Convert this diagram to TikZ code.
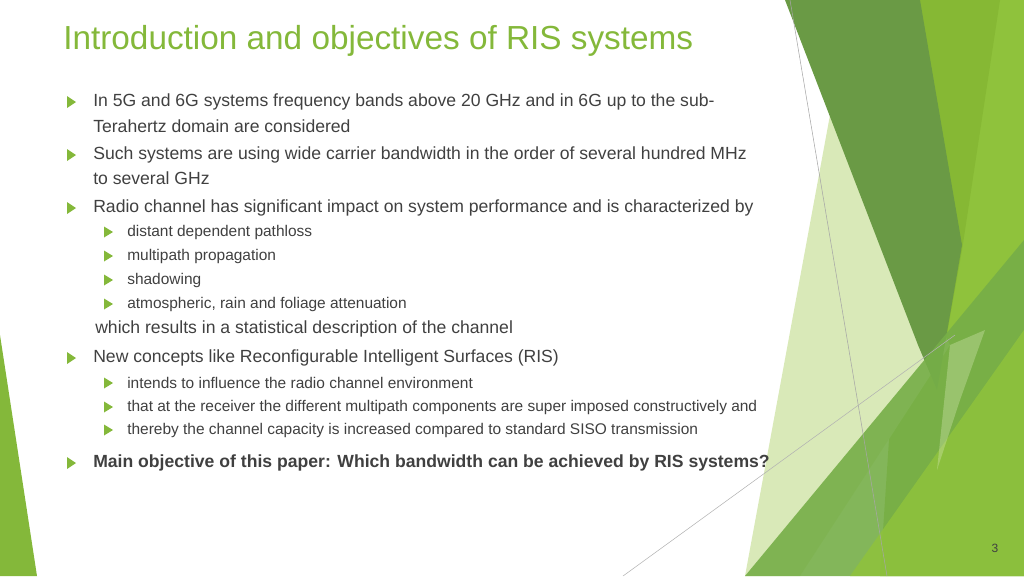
\documentclass[tikz,border=0pt]{standalone}
\usepackage{fontspec}
\setmainfont{Liberation Sans}
\definecolor{ttl}{HTML}{84B83A}
\definecolor{txt}{HTML}{404040}
\definecolor{dk}{HTML}{6A9A45}
\definecolor{br}{HTML}{86B834}
\definecolor{br2}{HTML}{8FC23C}
\definecolor{pale}{HTML}{D9E9B8}
\definecolor{mid}{HTML}{76AE48}
\begin{document}
\begin{tikzpicture}[x=0.75pt,y=-0.75pt,
  bl/.style={fill=ttl,draw=none},
  main/.style={anchor=west,inner sep=0pt,font=\fontsize{13.2}{15}\selectfont,text=txt},
  sub/.style={anchor=west,inner sep=0pt,font=\fontsize{11.6}{14}\selectfont,text=txt}]
\useasboundingbox (0,0) rectangle (1024,576);
% decorations
\fill[ttl] (0,335) -- (37,576) -- (0,576) -- cycle;
\fill[br2] (918,0) -- (1024,0) -- (1024,576) -- (880,576) -- cycle;
\fill[br] (918,0) -- (1000,0) -- (962,250) -- (937,390) -- cycle;
\fill[pale] (830,115) -- (950,345) -- (800,576) -- (745,576) -- cycle;
\fill[dk] (785,0) -- (920,0) -- (962,245) -- (937,390) -- (918,345) -- cycle;
\fill[mid,opacity=0.9] (745,576) -- (1024,240) -- (1024,576) -- cycle;
\fill[br2,opacity=0.85] (850,576) -- (1024,330) -- (1024,576) -- cycle;
\fill[pale,opacity=0.35] (950,345) -- (985,330) -- (960,400) -- (937,470) -- cycle;
\draw[gray!70,line width=0.4pt] (790,0) -- (887,576);
\draw[gray!60,line width=0.4pt] (623,576) -- (955,335);
% title
\node[anchor=west,inner sep=0pt,text=ttl,font=\fontsize{25}{30}\selectfont] (t) at (63,41) {Introduction and objectives of RIS systems};
% main bullets
\foreach \y/\n in {102/b1,155/b2,208/b3,358/b4,463/b5}
  \fill[bl] (67,\y-6) -- (76,\y) -- (67,\y+6) -- cycle;
\foreach \y in {232,256,280,304,383,407,430}
  \fill[bl] (104,\y-5.5) -- (113,\y) -- (104,\y+5.5) -- cycle;
\node[main] (l1) at (93,102) {In 5G and 6G systems frequency bands above 20 GHz and in 6G up to the sub-};
\node[main] (l2) at (93,126) {Terahertz domain are considered};
\node[main] (l3) at (93,155) {Such systems are using wide carrier bandwidth in the order of several hundred MHz};
\node[main] (l4) at (93,178) {to several GHz};
\node[main] (l5) at (93,208) {Radio channel has significant impact on system performance and is characterized by};
\node[sub] (s1) at (127,232) {distant dependent pathloss};
\node[sub] (s2) at (127,256) {multipath propagation};
\node[sub] (s3) at (127,280) {shadowing};
\node[sub] (s4) at (127,304) {atmospheric, rain and foliage attenuation};
\node[main] (l6) at (95,329) {which results in a statistical description of the channel};
\node[main] (l7) at (93,358) {New concepts like Reconfigurable Intelligent Surfaces (RIS)};
\node[sub] (s5) at (127,383) {intends to influence the radio channel environment};
\node[sub] (s6) at (127,407) {that at the receiver the different multipath components are super imposed constructively and};
\node[sub] (s7) at (127,430) {thereby the channel capacity is increased compared to standard SISO transmission};
\node[main,font=\bfseries\fontsize{13.2}{15}\selectfont] (l8) at (93,463) {Main objective of this paper: Which bandwidth can be achieved by RIS systems?};
\node[inner sep=0pt,text=txt,font=\fontsize{9}{10}\selectfont] (pg) at (995,548) {3};
\end{tikzpicture}
\end{document}
